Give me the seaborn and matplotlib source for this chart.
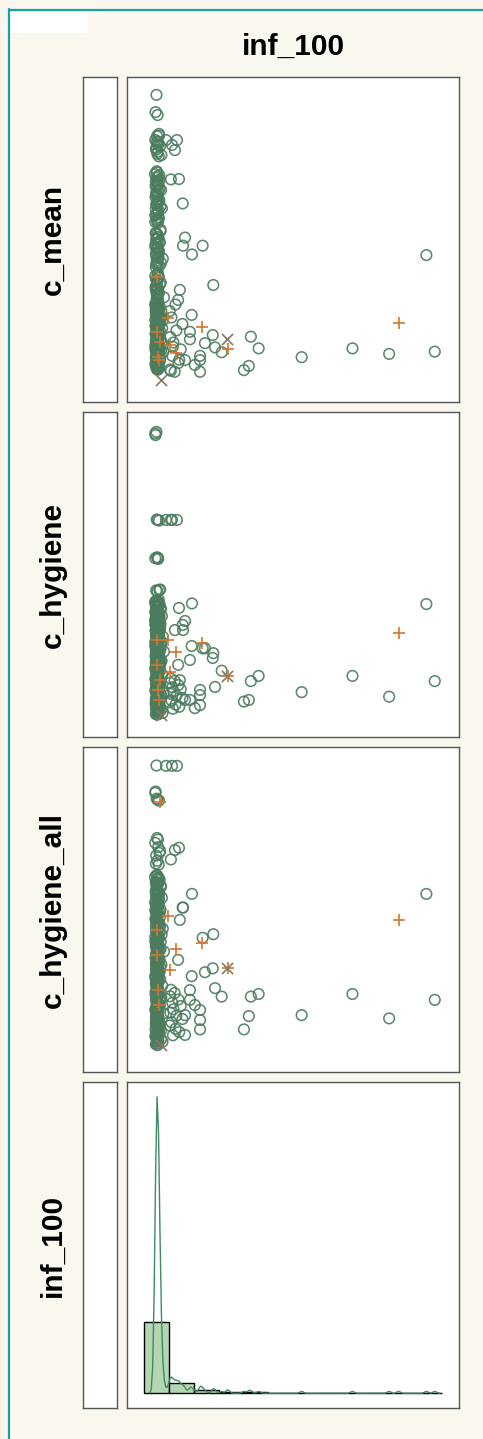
import matplotlib
matplotlib.use("Agg")
import matplotlib.pyplot as plt
from matplotlib.lines import Line2D
from matplotlib.patches import Rectangle
import pandas as pd
import seaborn as sns

# ---- data ----
# dense column of observations near inf_100 ~ 0 (first batch)
col_inf = [
    1.2, 0.9, 1.6, 2.1, 1.4, 0.8, 1.8, 2.5, 1.1, 1.5,
    2.0, 1.3, 0.7, 1.7, 2.3, 1.0, 1.9, 1.4, 2.8, 1.2,
    1.6, 0.9, 2.2, 1.5, 1.1, 3.1, 1.8, 1.3, 0.8, 2.0,
    1.4, 1.7, 2.6, 1.0, 1.5, 1.9, 1.2, 2.4, 0.9, 1.6,
    1.3, 2.1, 1.0, 1.8, 3.4, 1.5, 1.1, 2.2, 1.7, 0.8,
    1.9, 1.4, 2.7, 1.2, 1.6, 1.0, 2.0, 1.3, 3.8, 1.5,
    1.1, 1.8, 0.9, 2.3, 1.4, 1.7, 2.9, 1.2, 1.6, 1.0,
    2.1, 1.3, 1.5, 0.8, 1.9, 2.5, 1.1, 1.7, 1.4, 3.2,
    1.2, 1.6, 2.0, 0.9, 1.5, 1.8, 1.3, 2.6, 1.0, 1.7,
    1.4, 2.2, 1.1, 1.6, 0.8, 1.9, 3.6, 1.3, 1.5, 2.0,
    1.7, 1.0, 1.4, 2.4, 1.2, 1.8, 0.9, 1.5, 2.1, 1.3,
    1.6, 1.1, 2.8, 1.4, 1.9, 1.2, 1.7, 1.0, 2.3, 1.5,
]
col_mean = [
    94.5, 89.2, 88.3, 82.5, 81.8, 80.6, 79.9, 78.8, 77.6, 76.4,
    75.6, 71.0, 70.1, 69.5, 68.4, 67.9, 66.8, 66.1, 65.2, 64.7,
    63.6, 63.0, 62.1, 61.3, 60.7, 59.6, 59.1, 58.0, 57.5, 56.4,
    55.7, 55.1, 53.0, 52.1, 51.6, 50.5, 50.0, 49.1, 48.6, 47.5,
    47.1, 46.0, 45.6, 44.5, 44.1, 43.0, 42.4, 41.8, 39.6, 38.8,
    38.3, 37.2, 36.8, 35.9, 35.1, 34.6, 33.7, 33.1, 32.2, 31.6,
    30.4, 30.1, 29.6, 29.4, 28.8, 28.5, 27.9, 27.7, 27.1, 26.8,
    26.3, 26.0, 25.4, 25.2, 24.6, 24.3, 23.8, 23.5, 22.9, 22.7,
    22.1, 21.8, 21.3, 21.0, 20.4, 20.2, 19.6, 19.3, 18.8, 18.5,
    17.9, 17.7, 17.1, 16.8, 16.3, 16.0, 15.4, 15.2, 14.6, 14.3,
    13.8, 13.5, 12.9, 12.7, 12.1, 11.8, 11.3, 11.0, 10.4, 10.2,
    9.9, 13.1, 15.8, 18.2, 20.7, 23.2, 25.7, 28.2, 16.6, 19.9,
]
col_hyg = [
    93.9, 92.9, 66.8, 66.6, 55.3, 55.0, 54.8, 45.4, 45.1, 44.9,
    42.2, 41.8, 41.5, 41.1, 40.9, 40.4, 40.2, 39.8, 39.5, 39.1,
    38.8, 38.5, 38.1, 37.9, 37.4, 37.2, 36.8, 36.5, 36.1, 35.9,
    35.5, 35.2, 34.8, 34.5, 34.2, 33.8, 33.6, 33.1, 32.9, 32.5,
    32.2, 31.8, 31.6, 31.2, 30.9, 30.5, 30.2, 29.9, 29.5, 29.3,
    28.8, 28.6, 28.2, 27.9, 27.5, 27.2, 26.9, 26.5, 26.3, 25.8,
    25.6, 25.2, 24.9, 24.5, 24.2, 23.9, 23.5, 23.3, 22.8, 22.6,
    22.2, 21.9, 21.5, 21.2, 20.9, 20.5, 20.3, 19.8, 19.6, 19.2,
    18.9, 18.5, 18.2, 17.9, 17.5, 17.3, 16.8, 16.6, 16.2, 15.9,
    15.5, 15.2, 14.9, 14.5, 14.3, 13.8, 13.6, 13.2, 12.9, 12.5,
    12.2, 11.9, 11.5, 11.3, 10.8, 10.6, 10.2, 9.9, 9.5, 9.2,
    8.9, 8.5, 8.3, 7.8, 7.6, 7.2, 6.9, 11.1, 17.1, 24.0,
]
col_hyg_all = [
    94.3, 86.3, 83.8, 83.5, 72.0, 70.5, 69.2, 68.0, 66.6, 65.0,
    63.8, 60.6, 60.0, 59.6, 59.1, 58.5, 58.1, 57.6, 57.0, 56.6,
    56.1, 55.5, 55.1, 54.6, 54.0, 53.6, 53.1, 52.5, 52.1, 51.6,
    51.0, 50.6, 50.1, 49.5, 49.1, 48.6, 48.0, 47.6, 47.1, 46.5,
    46.1, 45.6, 45.0, 44.6, 44.1, 43.5, 43.1, 42.6, 42.0, 41.6,
    41.1, 40.5, 40.1, 39.6, 39.0, 38.6, 38.1, 37.5, 37.1, 36.6,
    36.0, 35.6, 35.1, 34.5, 34.1, 33.6, 33.0, 32.6, 32.1, 31.5,
    31.1, 30.6, 30.0, 29.6, 29.1, 28.5, 28.1, 27.6, 27.0, 26.6,
    26.1, 25.5, 25.1, 24.6, 24.0, 23.6, 23.1, 22.5, 22.1, 21.6,
    21.0, 20.6, 20.1, 19.5, 19.1, 18.6, 18.0, 17.6, 17.1, 16.5,
    16.1, 15.6, 15.0, 14.6, 14.1, 13.5, 13.1, 12.6, 12.0, 11.6,
    11.1, 10.5, 10.1, 9.6, 9.0, 8.6, 8.3, 14.8, 20.3, 27.3,
]

# dense column, second batch (heavily overlapping points + right fringe)
col2_inf = [
    0.8, 1.3, 1.7, 2.2, 1.0, 1.5, 1.9, 1.2, 2.6, 1.4,
    1.6, 1.1, 2.0, 0.9, 1.8, 1.3, 2.4, 1.5, 1.0, 1.7,
    2.1, 1.2, 1.4, 3.0, 1.6, 0.8, 1.9, 1.3, 2.2, 1.1,
    1.5, 1.8, 1.0, 2.5, 1.3, 1.7, 0.9, 2.0, 1.4, 1.6,
    6.2, 7.5, 5.9, 8.8, 6.7, 9.6, 7.1, 6.0, 8.1, 10.2,
    6.4, 5.8, 7.8, 9.1, 6.9, 1.5, 3.3, 1.0, 1.8, 1.3,
    1.6, 2.0, 1.1, 1.4, 2.4, 0.9, 1.7, 1.2, 1.9, 1.5,
    1.3, 1.8, 2.6, 1.0, 1.6, 1.2, 2.1, 1.4, 0.8, 1.7,
    2.0, 1.5, 1.1, 1.9, 1.3, 2.8, 1.6, 1.0, 1.4, 2.2,
    1.2, 1.7, 1.5, 0.9, 2.3, 1.8, 1.1, 1.4, 1.6, 2.0,
    1.3, 2.5, 1.0, 1.7, 1.2, 1.9, 1.5, 0.8, 2.1, 1.4,
    1.8, 1.1, 1.6, 2.9, 1.3, 1.0, 1.7, 2.2, 1.5, 1.2,
]
col2_mean = [
    30.2, 29.8, 29.1, 28.7, 28.0, 27.4, 26.9, 26.4, 25.9, 25.5,
    24.9, 24.5, 23.9, 23.4, 23.0, 22.4, 21.9, 21.5, 20.9, 20.5,
    19.9, 19.4, 18.9, 18.4, 18.0, 17.4, 16.9, 16.5, 15.9, 15.5,
    14.9, 14.4, 14.0, 13.4, 12.9, 12.5, 11.9, 11.5, 10.9, 10.5,
    9.6, 9.3, 10.0, 12.0, 14.2, 16.2, 18.3, 20.0, 22.0, 24.0,
    26.0, 28.0, 30.0, 13.0, 17.0, 21.0, 25.0, 29.0, 11.2, 15.1,
    39.2, 38.5, 37.7, 36.9, 36.2, 35.4, 34.8, 34.0, 33.3, 32.5,
    31.9, 31.2, 52.6, 51.8, 50.9, 50.2, 49.4, 48.8, 47.9, 47.3,
    46.5, 45.8, 45.0, 44.3, 43.6, 42.8, 42.1, 41.5, 70.6, 69.8,
    69.0, 68.1, 67.3, 66.5, 65.6, 64.9, 64.0, 63.3, 62.5, 61.6,
    60.9, 60.1, 59.3, 58.5, 57.7, 56.9, 56.1, 55.4, 82.0, 80.2,
    79.1, 78.2, 77.0, 76.0, 27.1, 23.6, 19.0, 14.7, 12.2, 10.8,
]
col2_hyg = [
    93.4, 66.9, 55.1, 45.2, 41.9, 41.3, 40.7, 40.0, 39.3, 38.7,
    38.0, 37.3, 36.7, 36.0, 35.3, 34.7, 34.0, 33.3, 32.7, 32.0,
    31.3, 30.7, 30.0, 29.3, 28.7, 28.0, 27.3, 26.7, 26.0, 25.3,
    24.7, 24.0, 23.3, 22.7, 22.0, 21.3, 20.7, 20.0, 19.3, 18.7,
    18.0, 17.3, 16.7, 16.0, 15.3, 14.7, 14.0, 13.3, 12.7, 12.0,
    11.3, 10.7, 10.0, 9.3, 8.7, 8.0, 7.4, 7.0, 8.4, 9.7,
    11.0, 12.4, 13.7, 15.0, 16.4, 17.7, 19.0, 20.4, 21.7, 23.0,
    24.4, 25.7, 27.0, 28.4, 29.7, 31.0, 32.4, 33.7, 35.0, 36.4,
    37.7, 39.0, 40.4, 41.6, 10.3, 13.0, 15.7, 18.4, 21.0, 23.7,
    26.4, 29.0, 31.7, 34.4, 37.0, 39.7, 9.0, 12.2, 14.4, 16.2,
    19.7, 22.3, 25.0, 27.7, 30.4, 33.0, 35.7, 38.4, 8.1, 11.7,
    13.9, 17.0, 20.1, 23.4, 26.2, 29.4, 32.6, 35.6, 7.7, 10.4,
]
col2_hyg_all = [
    85.9, 84.1, 71.5, 67.4, 64.1, 60.3, 59.4, 58.3, 57.3, 56.3,
    55.3, 54.3, 53.3, 52.3, 51.3, 50.3, 49.3, 48.3, 47.3, 46.3,
    45.3, 44.3, 43.3, 42.3, 41.3, 40.3, 39.3, 38.3, 37.3, 36.3,
    35.3, 34.3, 33.3, 32.3, 31.3, 30.3, 29.3, 28.3, 27.3, 26.3,
    25.3, 24.3, 23.3, 22.3, 21.3, 20.3, 19.3, 18.3, 17.3, 16.3,
    15.3, 14.3, 13.3, 12.3, 11.3, 10.3, 9.3, 8.5, 9.8, 11.8,
    13.8, 15.8, 17.8, 19.8, 21.8, 23.8, 25.8, 27.8, 29.8, 31.8,
    33.8, 35.8, 37.8, 39.8, 41.8, 43.8, 45.8, 47.8, 49.8, 51.8,
    53.8, 55.8, 57.8, 59.8, 10.8, 12.8, 14.5, 16.8, 18.8, 20.8,
    22.8, 24.8, 26.8, 28.8, 30.8, 32.8, 34.8, 36.8, 38.8, 40.8,
    42.8, 44.8, 46.8, 48.8, 50.8, 52.8, 9.5, 11.0, 13.0, 15.0,
    17.0, 19.0, 21.0, 23.0, 25.0, 27.0, 29.0, 31.0, 8.8, 12.5,
]

# spread-out observations (circles)
mid_inf = [94.7, 97.6, 81.8, 69.1, 51.5, 36.6, 33.9, 33.2, 31.5,
           20.9, 10.3, 17.2, 13.5, 11.1, 10.4, 9.0, 6.2, 13.4, 12.8,
           12.8, 16.3, 16.3, 16.3, 20.7, 18.0, 21.5, 23.8, 8.3, 6.6,
           4.5, 7.6, 9.3, 11.1, 8.7, 14.5]
mid_mean = [45.2, 15.5, 14.8, 16.5, 13.8, 16.5, 20.1, 11.1, 9.8,
            36.0, 61.1, 48.1, 45.4, 50.6, 48.1, 68.6, 68.5, 26.8, 21.6,
            19.3, 14.2, 12.9, 9.3, 20.6, 18.1, 16.8, 15.3, 80.6, 79.1,
            80.6, 77.5, 34.5, 12.9, 31.4, 11.4]
mid_hyg = [40.9, 17.2, 12.4, 18.8, 13.8, 18.8, 17.2, 11.4, 10.9,
           25.8, 34.5, 27.3, 41.1, 35.7, 32.9, 39.7, 66.8, 28.0, 23.7,
           11.4, 9.8, 12.9, 14.5, 24.3, 27.3, 15.4, 20.4, 66.8, 66.8,
           66.8, 32.9, 17.5, 11.4, 22.2, 8.9]
mid_hyg_all = [54.8, 22.2, 16.5, 24.0, 17.5, 24.0, 23.2, 17.2, 13.1,
               42.4, 50.6, 41.3, 54.8, 11.4, 50.6, 69.0, 65.4, 29.5, 22.2,
               25.2, 16.0, 13.1, 19.1, 31.9, 30.7, 25.8, 23.2, 94.2, 94.2,
               94.2, 68.3, 46.8, 17.5, 34.5, 20.6]

# '+' group
plus_inf = [85.1, 26.1, 17.1, 7.9, 5.3, 2.4, 1.7, 2.1, 1.4, 5.9, 1.4]
plus_mean = [24.2, 16.2, 23.0, 15.2, 25.8, 18.6, 13.9, 12.9, 21.6, 17.5, 38.6]
plus_hyg = [32.1, 18.8, 28.8, 26.2, 29.8, 17.5, 14.5, 11.4, 22.2, 20.0, 29.8]
plus_hyg_all = [46.8, 31.9, 39.6, 37.8, 48.0, 83.2, 25.2, 20.6, 36.0, 31.4, 43.7]

# 'x' group
cross_inf = [25.8, 2.8]
cross_mean = [19.5, 6.8]
cross_hyg = [18.8, 6.8]
cross_hyg_all = [31.9, 8.3]

row_vars = ["c_mean", "c_hygiene", "c_hygiene_all"]

n_circ = len(col_inf) + len(col2_inf) + len(mid_inf)
df = pd.DataFrame({
    "inf_100": col_inf + col2_inf + mid_inf + plus_inf + cross_inf,
    "c_mean": col_mean + col2_mean + mid_mean + plus_mean + cross_mean,
    "c_hygiene": col_hyg + col2_hyg + mid_hyg + plus_hyg + cross_hyg,
    "c_hygiene_all": (col_hyg_all + col2_hyg_all + mid_hyg_all
                      + plus_hyg_all + cross_hyg_all),
    "group": (["none"] * n_circ + ["partial"] * len(plus_inf)
              + ["full"] * len(cross_inf)),
})

# ---- styling ----
sns.set_style("white")
plt.rcParams["font.family"] = ["Liberation Sans", "DejaVu Sans"]

bg = "#faf7ef"
green = "#4a7c5d"
orange = "#d4762c"
brown = "#8b7765"
teal = "#17a2a4"
edge = "#555555"

W, H = 483, 1439
fig = plt.figure(figsize=(W / 100, H / 100), dpi=100, facecolor=bg)

rows_px = [(77, 402), (412, 737), (747, 1072), (1082, 1408)]
labels = row_vars + ["inf_100"]


def frac_box(x0, x1, y0, y1):
    return [x0 / W, 1 - y1 / H, (x1 - x0) / W, (y1 - y0) / H]


def clean(ax):
    ax.set_facecolor("white")
    ax.set_xticks([])
    ax.set_yticks([])
    ax.set_xlabel("")
    ax.set_ylabel("")
    for s in ax.spines.values():
        s.set_visible(True)
        s.set_color(edge)
        s.set_linewidth(1)


for i, (top, bot) in enumerate(rows_px):
    side = fig.add_axes(frac_box(83, 117, top, bot))
    clean(side)

    ax = fig.add_axes(frac_box(127, 459, top, bot))
    if i < 3:
        var = row_vars[i]
        sub = df[df["group"] == "none"]
        sns.scatterplot(data=sub, x="inf_100", y=var, ax=ax, marker="o",
                        s=58, facecolor="none", edgecolor=green,
                        linewidth=1.15, alpha=0.9)
        sub = df[df["group"] == "partial"]
        sns.scatterplot(data=sub, x="inf_100", y=var, ax=ax, marker="+",
                        s=85, color=orange, linewidth=1.2)
        sub = df[df["group"] == "full"]
        sns.scatterplot(data=sub, x="inf_100", y=var, ax=ax, marker="x",
                        s=65, color=brown, linewidth=1.2)
        ax.set_ylim(0, 100)
    else:
        ax.use_sticky_edges = False
        sns.histplot(data=df, x="inf_100", ax=ax, bins=12, binrange=(-3, 100),
                     kde=True, color="#4a9468", edgecolor="black",
                     linewidth=1, kde_kws={"bw_adjust": 0.15, "cut": 3},
                     line_kws={"linewidth": 1})
        for p in ax.patches:
            p.set_facecolor("#b5d6b2")
            p.set_alpha(1)
        for ln in ax.lines:
            ln.set_color("#3f8a64")
        ax.margins(y=0.05)
        ax.autoscale_view()
    ax.set_xlim(-9, 106)
    clean(ax)

    fig.text(53 / W, 1 - (top + bot) / 2 / H, labels[i], rotation=90,
             ha="center", va="center", fontsize=21.5, fontweight="bold",
             color="black")

fig.text(293 / W, 1 - 47 / H, "inf_100", ha="center", va="center",
         fontsize=21.5, fontweight="bold", color="black")

# frame decoration
fig.add_artist(Line2D([8.5 / W, 8.5 / W], [0, 1 - 9 / H],
                      transform=fig.transFigure, color=teal, lw=1.6))
fig.add_artist(Line2D([8.5 / W, 1], [1 - 9.5 / H, 1 - 9.5 / H],
                      transform=fig.transFigure, color=teal, lw=1.6))
fig.add_artist(Rectangle((10 / W, 1 - 33 / H), 78 / W, 20 / H,
                         transform=fig.transFigure, color="white", lw=0))

fig.savefig("out.png", dpi=100, facecolor=bg)
